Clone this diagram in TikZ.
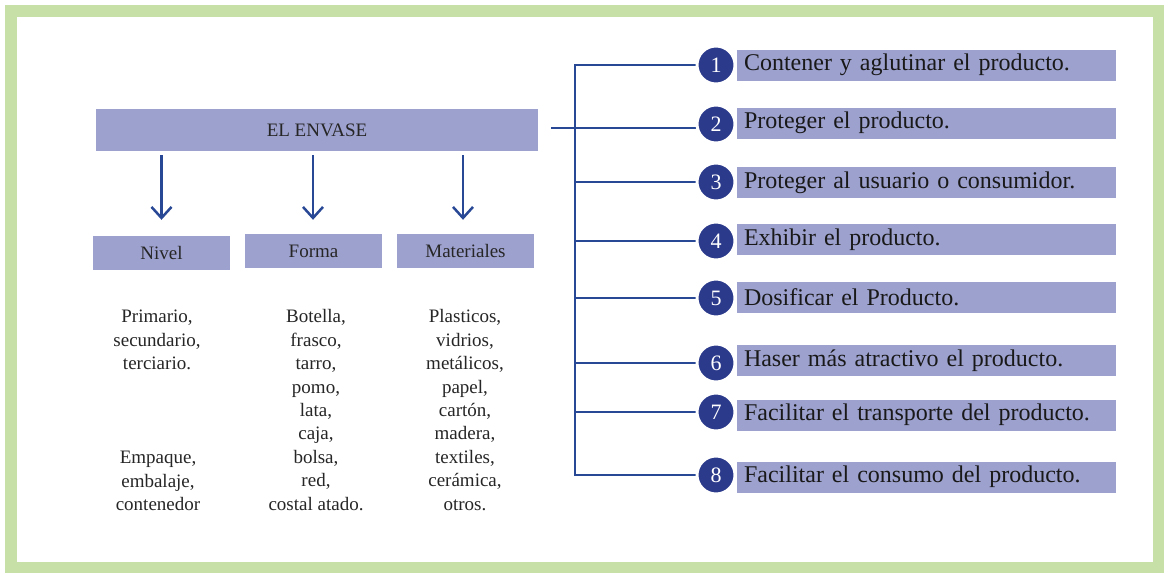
\documentclass[tikz,border=0pt]{standalone}
\usepackage{fontspec}
\setmainfont{Liberation Serif}
\usetikzlibrary{arrows.meta,backgrounds,calc}
\definecolor{framegreen}{RGB}{198,224,168}
\definecolor{lav}{RGB}{157,161,206}
\definecolor{navy}{RGB}{44,58,140}
\definecolor{linkblue}{RGB}{40,72,150}
\definecolor{txt}{RGB}{38,38,38}
\begin{document}
\begin{tikzpicture}[x=1pt,y=-1pt,
  lbox/.style={fill=lav, inner sep=0pt, text=txt, font=\fontsize{19}{23}\selectfont},
  listtext/.style={align=center, text=txt, inner sep=0pt, font=\fontsize{19}{23.4}\selectfont},
  bar/.style={fill=lav, minimum width=379pt, minimum height=31pt, inner xsep=7pt, inner ysep=0pt,
              text width=365pt, align=left, text=black!90, font=\fontsize{24}{28}\selectfont},
  numc/.style={circle, fill=navy, draw=white, line width=3pt, minimum size=38pt, inner sep=0pt,
               text=white, font=\fontsize{22}{22}\selectfont},
  conn/.style={draw=linkblue, line width=2.2pt},
  arr/.style={draw=linkblue, line width=2.5pt, -{Straight Barb[length=11pt,width=20pt,line width=2.5pt]}}
]
\useasboundingbox (0,0) rectangle (1164,573);

% left part
\node[lbox, minimum width=442pt, minimum height=42pt] (env) at (317,130) {EL ENVASE};
\node[lbox, minimum width=137pt, minimum height=34pt] (nivel) at (161.5,253) {Nivel};
\node[lbox, minimum width=137pt, minimum height=34pt] (forma) at (313.5,251) {Forma};
\node[lbox, minimum width=137pt, minimum height=34pt] (mat) at (465.5,251) {Materiales};

\draw[arr] ($(env.south -| nivel.north)+(0,4)$) -- ($(nivel.north)+(0,-16)$);
\draw[arr] ($(env.south -| forma.north)+(-0.5,4)$) -- ($(forma.north)+(-0.5,-14)$);
\draw[arr] ($(env.south -| mat.north)+(-2.5,4)$) -- ($(mat.north)+(-2.5,-14)$);

\node[listtext] (niv1) at (157,340) {Primario,\\secundario,\\terciario.};
\node[listtext] (niv2) at (158,481) {Empaque,\\embalaje,\\contenedor};
\node[listtext] (formlist) at (316,410) {Botella,\\frasco,\\tarro,\\pomo,\\lata,\\caja,\\bolsa,\\red,\\costal atado.};
\node[listtext] (matlist) at (465,410) {Plasticos,\\vidrios,\\metálicos,\\papel,\\cartón,\\madera,\\textiles,\\cerámica,\\otros.};

% right part
\node[bar] (b1) at (926.5,65) {Contener y aglutinar el producto.};
\node[bar] (b2) at (926.5,123) {Proteger el producto.};
\node[bar] (b3) at (926.5,182.5) {Proteger al usuario o consumidor.};
\node[bar] (b4) at (926.5,239.5) {Exhibir el producto.};
\node[bar] (b5) at (926.5,297.5) {Dosificar el Producto.};
\node[bar] (b6) at (926.5,360.5) {Haser más atractivo el producto.};
\node[bar] (b7) at (926.5,415) {Facilitar el transporte del producto.};
\node[bar] (b8) at (926.5,477) {Facilitar el consumo del producto.};

\node[numc] (c1) at (716,65) {1};
\node[numc] (c2) at (716,124) {2};
\node[numc] (c3) at (716,182) {3};
\node[numc] (c4) at (716,241) {4};
\node[numc] (c5) at (716,298) {5};
\node[numc] (c6) at (716,363) {6};
\node[numc] (c7) at (716,412) {7};
\node[numc] (c8) at (716,475) {8};

\coordinate (trunk) at (575,0);
\coordinate (estart) at (551,128);
\begin{scope}[on background layer]
\fill[white] (0,0) rectangle (1164,573);
\draw[framegreen, line width=11.5pt] (11,11) rectangle (1158.5,567.5);
\draw[conn] (c1.center) -- (c1.center -| trunk) -- (c8.center -| trunk) -- (c8.center);
\draw[conn] (c3.center) -- (c3.center -| trunk);
\draw[conn] (c4.center) -- (c4.center -| trunk);
\draw[conn] (c5.center) -- (c5.center -| trunk);
\draw[conn] (c6.center) -- (c6.center -| trunk);
\draw[conn] (c7.center) -- (c7.center -| trunk);
\draw[conn] (estart) -- (estart -| c2.center);
\end{scope}
\end{tikzpicture}
\end{document}
